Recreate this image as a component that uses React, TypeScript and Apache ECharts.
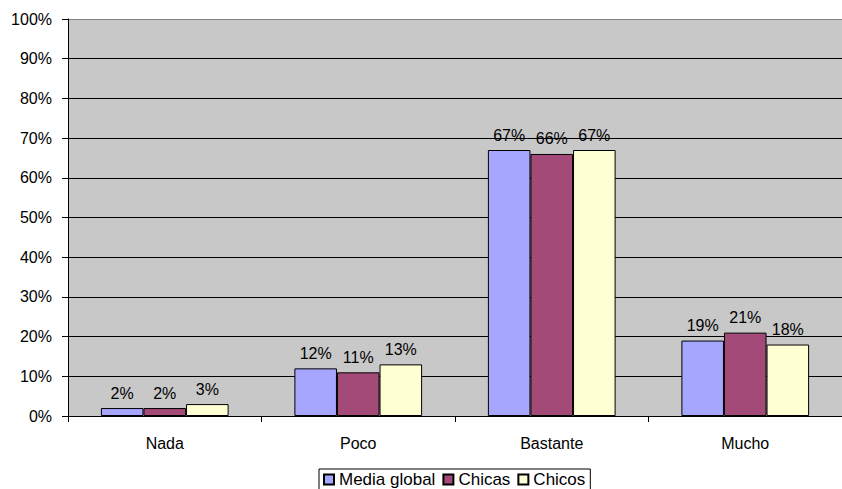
import React, { useEffect, useRef } from "react";
import * as echarts from "echarts";

const categories = ["Nada", "Poco", "Bastante", "Mucho"];
const mediaGlobal = [2, 12, 67, 19];
const chicas = [2, 11, 66, 21];
const chicos = [3, 13, 67, 18];
const seriesNames = ["Media global", "Chicas", "Chicos"];
const colors = ["#A6A6FF", "#A44A78", "#FFFFD4"];

export default function App() {
  const ref = useRef<HTMLDivElement>(null);
  useEffect(() => {
    document.body.style.margin = "0";
    const chart = echarts.init(ref.current!, null, { renderer: "svg" });
    const font = "'Liberation Sans', Arial, sans-serif";
    const data = [mediaGlobal, chicas, chicos];
    const splitColors = Array.from({ length: 11 }, (_, i) => (i === 10 ? "#808080" : "#000000"));
    chart.setOption({
      animation: false,
      backgroundColor: "#FFFFFF",
      textStyle: { fontFamily: font },
      grid: {
        left: 68,
        top: 19,
        width: 783,
        height: 397,
        show: true,
        backgroundColor: "#C8C8C8",
        borderColor: "#808080",
        borderWidth: 0,
      },
      legend: {
        data: seriesNames,
        left: 319,
        top: 469,
        orient: "horizontal",
        icon: "rect",
        itemWidth: 10,
        itemHeight: 10,
        itemGap: 7,
        padding: [2, 5, 4, 4],
        borderColor: "#000",
        borderWidth: 1,
        backgroundColor: "#fff",
        textStyle: { fontSize: 17, color: "#000", fontFamily: font },
      },
      xAxis: {
        type: "category",
        data: categories,
        axisLine: { show: true, lineStyle: { color: "#000", width: 1 } },
        axisTick: { show: true, length: 6, inside: false, lineStyle: { color: "#000" } },
        axisLabel: { fontSize: 16, color: "#000", margin: 19, fontFamily: font },
      },
      yAxis: {
        type: "value",
        min: 0,
        max: 100,
        interval: 10,
        axisLine: { show: true, lineStyle: { color: "#000", width: 1 } },
        axisTick: { show: true, length: 6, lineStyle: { color: "#000" } },
        axisLabel: { fontSize: 16, color: "#000", margin: 16, formatter: "{value}%", fontFamily: font },
        splitLine: { show: true, lineStyle: { color: splitColors, width: 1 } },
      },
      series: seriesNames.map((name, i) => ({
        name,
        type: "bar",
        data: data[i],
        barGap: "0%",
        barCategoryGap: "34%",
        itemStyle: { color: colors[i], borderColor: "#000", borderWidth: 1 },
        label: {
          show: true,
          position: "top",
          distance: 7,
          formatter: "{c}%",
          fontSize: 16,
          color: "#000",
          fontFamily: font,
        },
      })),
    });
    return () => chart.dispose();
  }, []);
  return <div ref={ref} style={{ width: 842, height: 489 }} />;
}
